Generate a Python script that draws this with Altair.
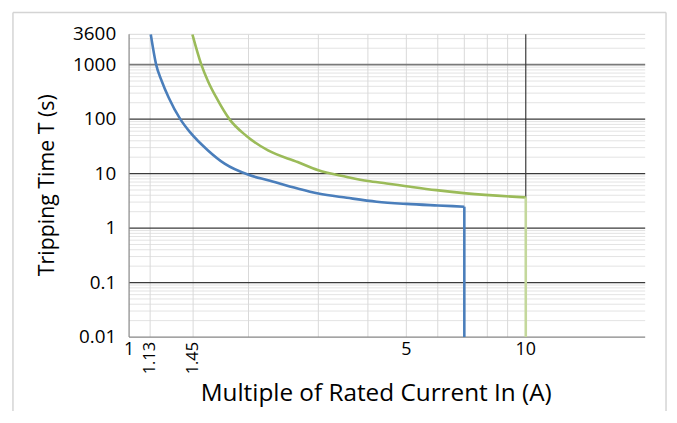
import altair as alt
import pandas as pd

# ---- data ----
blue_x = [1.134, 1.17, 1.209, 1.259, 1.346, 1.426, 1.581, 1.741, 2.0, 2.24, 2.66, 3.0, 3.54, 4.21, 5.0, 6.0, 7.0]
blue_y = [3600, 1000, 497, 247, 100, 57, 26.6, 15.2, 9.5, 7.55, 5.3, 4.3, 3.6, 3.05, 2.78, 2.6, 2.47]
green_x = [1.444, 1.521, 1.581, 1.66, 1.79, 1.97, 2.24, 2.66, 3.0, 3.54, 4.0, 4.46, 5.0, 5.95, 7.08, 10.0]
green_y = [3600, 1000, 497, 247, 100, 50, 26.6, 16.3, 11.5, 8.7, 7.3, 6.6, 5.88, 4.97, 4.33, 3.66]
blue_drop = {"x": 7.0, "y": 2.47, "y2": 0.01}
green_drop = {"x": 10.0, "y": 3.66, "y2": 0.01}

x_domain = [1, 20]
y_domain = [0.01, 3600]
y_labels = [0.01, 0.1, 1, 10, 100, 1000, 3600]
y_label_text = ["0.01", "0.1", "1", "10", "100", "1000", "3600"]
x_labels = [1, 5, 10]
x_label_text = ["1", "5", "10"]
x_rot_labels = [1.13, 1.45]
x_rot_text = ["1.13", "1.45"]
y_major = [0.1, 1, 10, 100]
y_major_gray = [1000]
y_top = [3600]
y_bottom = [0.01]
y_minor_mult = [2, 3, 4, 5, 6, 7, 8, 9]
y_decades = [0.01, 0.1, 1, 10, 100, 1000]
x_minor = [1.13, 1.45, 2, 3, 4, 5, 6, 7, 8, 9]
x_major = [10]
x_left = [1]
x_title = "Multiple of Rated Current In (A)"
y_title = "Tripping Time T (s)"

y_minor = [m * d for d in y_decades for m in y_minor_mult if m * d < 3600]

FONT = "Open Sans"
W, H = 520, 305
xs = alt.Scale(type="log", domain=x_domain, nice=False)
ys = alt.Scale(type="log", domain=y_domain, nice=False)


def X(f="x"):
    return alt.X(f + ":Q", scale=xs, axis=None)


def Y(f="y"):
    return alt.Y(f + ":Q", scale=ys, axis=None)


def hrules(vals, color, width):
    return alt.Chart(pd.DataFrame({"y": vals})).mark_rule(color=color, strokeWidth=width).encode(
        y=Y(), x=alt.value(0), x2=alt.value(W))


def vrules(vals, color, width):
    return alt.Chart(pd.DataFrame({"x": vals})).mark_rule(color=color, strokeWidth=width).encode(
        x=X(), y=alt.value(0), y2=alt.value(H))


grid_layers = [
    hrules(y_minor, "#e3e3e3", 1),
    hrules(y_top, "#d9d9d9", 1),
    vrules(x_minor, "#d9d9d9", 1),
    hrules(y_major, "#3a3a3a", 1.2),
    hrules(y_major_gray, "#7a7a7a", 1.6),
    hrules(y_bottom, "#868686", 1.2),
    vrules(x_left, "#868686", 1.2),
    vrules(x_major, "#3a3a3a", 1.2),
]

blue_df = pd.DataFrame({"x": blue_x, "y": blue_y})
green_df = pd.DataFrame({"x": green_x, "y": green_y})

blue_line = alt.Chart(blue_df).mark_line(color="#4a7ebb", strokeWidth=2.6, interpolate="monotone", clip=True).encode(
    x=X(), y=Y())
green_line = alt.Chart(green_df).mark_line(color="#9bbb59", strokeWidth=2.6, interpolate="monotone", clip=True).encode(
    x=X(), y=Y())
blue_v = alt.Chart(pd.DataFrame([blue_drop])).mark_rule(color="#4a7ebb", strokeWidth=2.6).encode(
    x=X(), y=Y(), y2="y2:Q")
green_v = alt.Chart(pd.DataFrame([green_drop])).mark_rule(color="#c4d89c", strokeWidth=2.6).encode(
    x=X(), y=Y(), y2="y2:Q")

# tick labels
y_lab = alt.Chart(pd.DataFrame({"y": y_labels, "t": y_label_text})).mark_text(
    align="right", baseline="middle", fontSize=19, font=FONT, color="#000000").encode(
    y=Y(), x=alt.value(-13), text="t:N")
x_lab = alt.Chart(pd.DataFrame({"x": x_labels, "t": x_label_text})).mark_text(
    align="center", baseline="top", fontSize=18, font=FONT, color="#000000").encode(
    x=X(), y=alt.value(H + 4), text="t:N")
rot_lab = alt.Chart(pd.DataFrame({"x": x_rot_labels, "t": x_rot_text})).mark_text(
    angle=270, align="right", baseline="middle", fontSize=16.5, font=FONT, color="#000000").encode(
    x=X(), y=alt.value(H + 5), text="t:N")

# axis titles
xt = alt.Chart(pd.DataFrame({"t": [x_title]})).mark_text(
    align="center", baseline="alphabetic", fontSize=24.5, font=FONT, color="#000000").encode(
    x=alt.value(249), y=alt.value(369), text="t:N")
yt = alt.Chart(pd.DataFrame({"t": [y_title]})).mark_text(
    angle=270, align="center", baseline="middle", fontSize=21.5, font=FONT, color="#000000").encode(
    x=alt.value(-82), y=alt.value(152), text="t:N")

# outer chart frame (left, top, right edges)
one = pd.DataFrame({"a": [0]})
frame_l = alt.Chart(one).mark_rule(color="#d4d4d4", strokeWidth=1.5).encode(
    x=alt.value(-117), y=alt.value(-22), y2=alt.value(420))
frame_r = alt.Chart(one).mark_rule(color="#d4d4d4", strokeWidth=1.5).encode(
    x=alt.value(541), y=alt.value(-22), y2=alt.value(420))
frame_t = alt.Chart(one).mark_rule(color="#d4d4d4", strokeWidth=1.5).encode(
    x=alt.value(-117), x2=alt.value(541), y=alt.value(-22))

chart = alt.layer(
    *grid_layers,
    blue_line, green_line, blue_v, green_v,
    y_lab, x_lab, rot_lab, xt, yt,
    frame_l, frame_r, frame_t,
).properties(
    width=W, height=H,
    padding={"left": 122, "top": 25, "right": 24, "bottom": 73},
    autosize=alt.AutoSizeParams(type="none"),
    background="#ffffff",
).configure_view(stroke=None)

chart.save("out.html", embed_options={"renderer": "svg", "actions": False})
